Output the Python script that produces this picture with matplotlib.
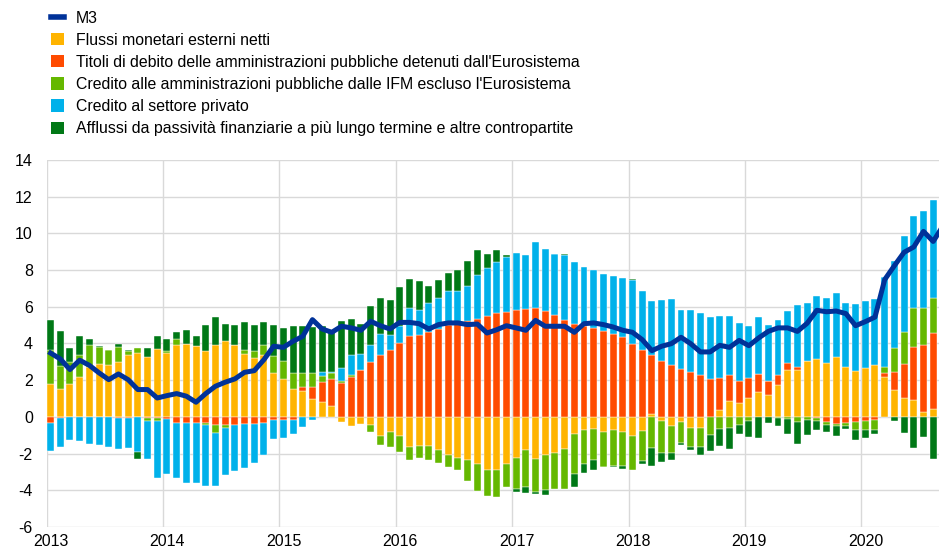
import numpy as np
import matplotlib
matplotlib.use("Agg")
from matplotlib import pyplot as plt
from matplotlib.lines import Line2D
from matplotlib.patches import Patch

plt.rcParams['font.family'] = ['Liberation Sans', 'DejaVu Sans']
plt.rcParams['axes.unicode_minus'] = False

# monthly contributions, Jan 2013 - Aug 2020 (percentage points)
flussi_esterni = [1.81, 1.54, 1.80, 2.16, 2.70, 2.89, 2.85, 3.01, 3.36, 3.50, 3.28, 3.68,
                  3.50, 3.94, 3.97, 3.88, 3.58, 3.90, 4.16, 3.94, 3.45, 3.23, 3.36, 2.38,
                  2.09, 1.54, 1.42, 1.00, 0.83, 0.60, -0.29, -0.51, -0.40, -0.42, -1.02, -0.83,
                  -1.05, -1.62, -1.56, -1.56, -1.78, -2.09, -2.25, -2.36, -2.54, -2.90, -2.87, -2.58,
                  -2.23, -1.83, -2.29, -2.05, -1.96, -1.74, -0.93, -0.69, -0.65, -0.82, -0.73, -0.83,
                  -1.02, -0.78, 0.18, -0.20, -0.47, -0.29, -0.62, -0.62, 0.00, 0.40, 0.85, 0.76,
                  1.03, 1.38, 1.22, 1.76, 2.58, 2.56, 3.03, 3.18, 2.96, 3.27, 2.72, 2.52,
                  2.69, 2.81, 2.16, 1.45, 1.02, 0.94, 0.29, 0.45]
titoli_eurosistema = [-0.33, -0.05, -0.03, -0.03, -0.02, -0.02, -0.03, -0.05, -0.05, -0.03, -0.05, -0.05,
                      -0.10, -0.33, -0.33, -0.33, -0.33, -0.44, -0.44, -0.44, -0.38, -0.38, -0.33, -0.18,
                      -0.15, -0.15, 0.22, 0.64, 1.07, 1.45, 1.85, 2.18, 2.58, 2.98, 3.36, 3.63,
                      4.03, 4.39, 4.45, 4.60, 4.80, 5.00, 5.10, 5.20, 5.35, 5.48, 5.65, 5.74,
                      5.81, 5.88, 5.92, 5.75, 5.54, 5.28, 5.06, 4.97, 4.83, 4.68, 4.52, 4.37,
                      3.97, 3.63, 3.21, 3.03, 2.83, 2.61, 2.43, 2.29, 2.07, 1.72, 1.42, 1.20,
                      1.11, 0.94, 0.73, 0.54, 0.36, 0.18, 0.00, -0.07, -0.27, -0.36, -0.31, -0.29,
                      -0.25, -0.18, 0.22, 0.98, 1.87, 2.85, 3.63, 4.12]
credito_ap = [1.81, 1.22, 1.20, 1.23, 1.23, 0.94, 0.78, 0.82, 0.24, 0.27, -0.18, -0.20,
              0.11, 0.33, 0.00, 0.00, -0.13, -0.44, -0.16, 0.00, 0.20, 0.34, 0.58, 0.93,
              0.98, 0.87, 0.76, 0.73, 0.34, 0.33, 0.13, 0.09, 0.00, -0.42, -0.51, -0.80,
              -0.87, -0.74, -0.69, -0.80, -0.73, -0.65, -0.65, -1.14, -1.51, -1.42, -1.49, -1.25,
              -1.69, -1.98, -1.81, -1.96, -1.96, -2.18, -2.16, -1.85, -1.71, -1.89, -1.92, -1.83,
              -1.85, -1.63, -1.72, -1.78, -1.52, -1.13, -1.00, -1.03, -0.96, -0.67, -0.62, -0.45,
              -0.20, 0.00, 0.00, -0.07, -0.13, -0.29, -0.18, -0.16, -0.15, -0.15, -0.20, -0.42,
              -0.44, -0.54, 0.34, 1.32, 1.74, 2.12, 2.00, 1.89]
credito_privato = [-1.54, -1.58, -1.23, -1.27, -1.45, -1.52, -1.60, -1.69, -1.63, -1.87, -2.05, -3.10,
                   -3.00, -2.99, -3.27, -3.27, -3.32, -2.90, -2.58, -2.52, -2.42, -2.14, -1.72, -1.02,
                   -1.00, -0.76, -0.56, -0.18, 0.22, 0.09, 0.69, 1.11, 0.83, 0.96, 1.18, 0.83,
                   0.91, 1.56, 1.40, 1.61, 1.68, 1.88, 1.78, 1.95, 2.38, 2.65, 2.79, 2.95,
                   3.14, 2.96, 3.61, 3.38, 3.33, 3.56, 3.38, 3.20, 3.17, 3.11, 3.14, 3.18,
                   3.47, 3.25, 2.94, 3.36, 3.61, 3.23, 3.38, 3.37, 3.39, 3.38, 3.23, 3.16,
                   2.81, 3.12, 3.07, 2.99, 2.83, 3.34, 3.18, 3.41, 3.52, 3.48, 3.50, 3.63,
                   3.64, 3.61, 4.88, 4.75, 5.25, 5.06, 5.28, 5.34]
afflussi = [1.67, 1.94, 0.74, 1.00, 0.29, 0.05, 0.00, 0.16, 0.07, -0.42, 0.45, 0.71,
            0.64, 0.38, 0.74, 0.53, 1.45, 1.57, 0.91, 1.05, 1.52, 1.43, 1.22, 1.69,
            1.80, 2.52, 2.54, 2.54, 2.47, 2.14, 2.54, 1.94, 1.67, 2.09, 1.92, 1.89,
            2.14, 1.58, 1.58, 0.90, 1.00, 0.98, 1.14, 1.33, 1.36, 0.74, 0.65, 0.11,
            -0.15, -0.33, -0.11, -0.24, 0.00, 0.05, -0.74, -0.51, -0.51, -0.04, -0.09, -0.16,
            0.09, -0.13, -0.96, -0.49, -0.38, -0.09, -0.18, -0.45, -0.91, -0.93, -1.11, -0.47,
            -0.89, -1.14, -0.33, -0.42, -0.78, -1.16, -0.83, -0.51, -0.38, -0.51, -0.15, -0.53,
            -0.45, -0.20, 0.00, -0.24, -0.89, -1.69, -1.07, -2.27]
# M3 annual growth, Jan 2013 - Sep 2020
m3 = [3.48, 3.16, 2.58, 3.09, 2.81, 2.40, 2.03, 2.34, 2.03, 1.49, 1.49, 1.03,
      1.16, 1.27, 1.13, 0.80, 1.27, 1.67, 1.89, 2.07, 2.43, 2.52, 3.12, 3.85,
      3.79, 4.12, 4.39, 5.30, 4.79, 4.61, 4.94, 4.85, 4.72, 5.21, 4.97, 4.79,
      5.15, 5.15, 5.08, 4.79, 5.03, 5.12, 5.12, 5.03, 5.06, 4.57, 4.75, 4.97,
      4.85, 4.72, 5.26, 4.94, 4.94, 4.94, 4.61, 5.08, 5.12, 5.03, 4.90, 4.72,
      4.61, 4.21, 3.61, 3.85, 3.99, 4.34, 3.99, 3.54, 3.54, 3.90, 3.79, 4.17,
      3.88, 4.30, 4.66, 4.85, 4.85, 4.66, 5.10, 5.81, 5.73, 5.77, 5.63, 4.97,
      5.19, 5.44, 7.48, 8.24, 8.97, 9.26, 10.11, 9.56, 10.40]

years = ["2013", "2014", "2015", "2016", "2017", "2018", "2019", "2020"]

labels = ["Flussi monetari esterni netti",
          "Titoli di debito delle amministrazioni pubbliche detenuti dall'Eurosistema",
          "Credito alle amministrazioni pubbliche dalle IFM escluso l'Eurosistema",
          "Credito al settore privato",
          "Afflussi da passività finanziarie a più lungo termine e altre contropartite"]
colors = ["#ffb400", "#ff4b00", "#65b800", "#00b1ea", "#007816"]
m3_color = "#003299"

series = [flussi_esterni, titoli_eurosistema, credito_ap, credito_privato, afflussi]

fig = plt.figure(figsize=(9.39, 5.53), dpi=100)
ax = fig.add_axes([0.0497, 0.047, 0.9503, 0.6637])

x = np.arange(len(flussi_esterni)) + 0.4
pos_base = np.zeros(len(x))
neg_base = np.zeros(len(x))
for vals, col in zip(series, colors):
    v = np.array(vals)
    base = np.where(v >= 0, pos_base, neg_base)
    ax.bar(x, v, width=0.72, bottom=base, color=col, edgecolor="white",
           linewidth=0.3, zorder=2)
    pos_base = pos_base + np.clip(v, 0, None)
    neg_base = neg_base + np.clip(v, None, 0)

xm = np.arange(len(m3)) + 0.4
ax.plot(xm, m3, color=m3_color, linewidth=3.6, zorder=3, solid_joinstyle="round")

ax.set_xlim(0, 92)
ax.set_ylim(-6, 14)
ax.set_yticks(np.arange(-6, 15, 2))
ax.set_xticks(np.arange(0, 92, 12))
ax.set_xticklabels([])
ax.set_xticks(np.arange(0, 92, 12) + 0.45, minor=True)
ax.set_xticklabels(years, minor=True)
ax.tick_params(axis="both", which="both", length=0, labelsize=11.5, colors="black")
ax.tick_params(axis="y", pad=10)
ax.tick_params(axis="x", which="minor", pad=5)
ax.grid(True, color="#d9d9d9", linewidth=1.0, zorder=0)
ax.set_axisbelow(True)
for s in ax.spines.values():
    s.set_visible(False)

handles = [Line2D([0], [0], color=m3_color, linewidth=4)]
handles += [Patch(facecolor=c, edgecolor="none") for c in colors]
fig.legend(handles, ["M3"] + labels, loc="upper left", bbox_to_anchor=(0.043, 1.001),
           frameon=False, fontsize=11.4, handlelength=0.82, handleheight=0.82,
           handletextpad=0.72, labelspacing=0.45, borderaxespad=0.3)

fig.savefig("out.png", dpi=100)
